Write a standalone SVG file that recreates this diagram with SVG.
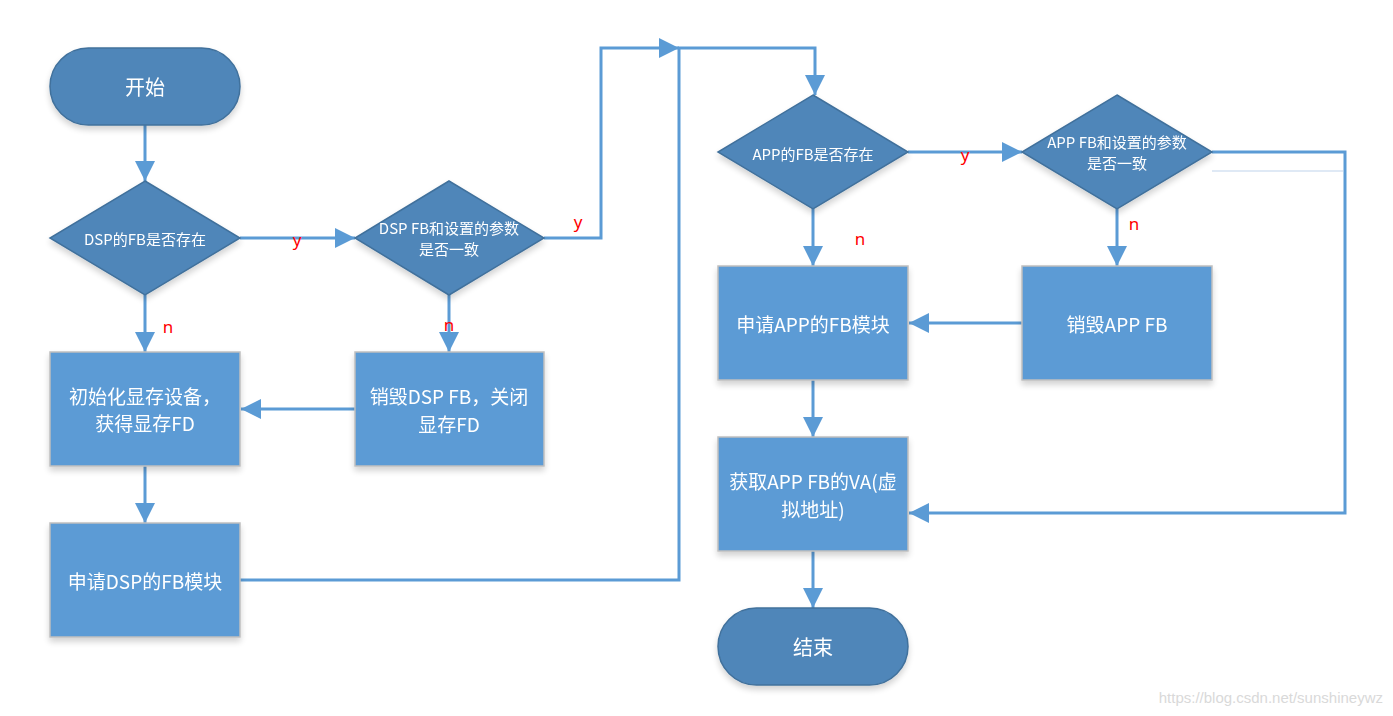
<svg xmlns="http://www.w3.org/2000/svg" width="1393" height="716" viewBox="0 0 1393 716">
<style>
.term{fill:#4f86b9;stroke:#41719c;stroke-width:1.5}
.dec{fill:#4f86b9;stroke:#41719c;stroke-width:1.5}
.proc{fill:#5b9bd5;stroke:#bfbfbf;stroke-width:1.5}
.t{fill:#ffffff;font-family:"Noto Sans CJK SC","Noto Sans",sans-serif;text-anchor:middle;dominant-baseline:central}
.lbl{fill:#ff0000;font-family:"Noto Sans","Liberation Sans",sans-serif;font-size:17px;text-anchor:middle;dominant-baseline:central}
.c{fill:none;stroke:#5b9bd5;stroke-width:3}
.sh{filter:url(#shadow)}
</style>
<defs>
<marker id="ah" markerUnits="userSpaceOnUse" markerWidth="20" markerHeight="20" refX="18" refY="9" orient="auto" viewBox="0 0 18 18">
<path d="M0,0 L18,9 L0,18 z" fill="#5b9bd5"/>
</marker>
<filter id="shadow" x="-10%" y="-10%" width="130%" height="130%">
<feGaussianBlur in="SourceAlpha" stdDeviation="3"/>
<feOffset dx="0" dy="4" result="b"/>
<feComponentTransfer><feFuncA type="linear" slope="0.18"/></feComponentTransfer>
<feMerge><feMergeNode/><feMergeNode in="SourceGraphic"/></feMerge>
</filter>
</defs>
<rect width="1393" height="716" fill="#ffffff"/>

<g id="connectors">
<path class="c" d="M145,125 V181" marker-end="url(#ah)"/>
<path class="c" d="M240,238 H355" marker-end="url(#ah)"/>
<path class="c" d="M145,295 V352" marker-end="url(#ah)"/>
<path class="c" d="M449,295 V352" marker-end="url(#ah)"/>
<path class="c" d="M355,409 H241" marker-end="url(#ah)"/>
<path class="c" d="M145,466 V523" marker-end="url(#ah)"/>
<path class="c" d="M544,238 H601 V48 H679" marker-end="url(#ah)"/>
<path class="c" d="M240,580 H679 V48 H815 V95" marker-end="url(#ah)"/>
<path class="c" d="M908,152 H1022" marker-end="url(#ah)"/>
<path class="c" d="M813,209 V266" marker-end="url(#ah)"/>
<path class="c" d="M1117,209 V266" marker-end="url(#ah)"/>
<path class="c" d="M1022,323 H909" marker-end="url(#ah)"/>
<path class="c" d="M813,380 V437" marker-end="url(#ah)"/>
<path class="c" d="M1212,152 H1345 V513 H909" marker-end="url(#ah)"/>
<path class="c" d="M813,551 V608" marker-end="url(#ah)"/>
<path d="M1212,171 H1343" stroke="#dfe9f5" stroke-width="2" fill="none"/>
<text class="lbl" x="297" y="239">y</text>
<text class="lbl" x="168" y="326">n</text>
<text class="lbl" x="449" y="324">n</text>
<text class="lbl" x="578" y="221">y</text>
<text class="lbl" x="965" y="154">y</text>
<text class="lbl" x="860" y="238">n</text>
<text class="lbl" x="1134" y="223">n</text>
</g>

<g id="start" class="sh">
<rect class="term" x="50" y="48" width="190" height="77" rx="38.5" ry="38.5"/>
<text class="t" x="145" y="86" font-size="20">开始</text>
</g>
<g id="dsp-exists" class="sh">
<polygon class="dec" points="145,181 240,238 145,295 50,238"/>
<text class="t" x="145" y="238" font-size="15">DSP的FB是否存在</text>
</g>
<g id="dsp-consistent" class="sh">
<polygon class="dec" points="449,181 544,238 449,295 355,238"/>
<text class="t" x="449" y="227" font-size="15">DSP FB和设置的参数</text>
<text class="t" x="449" y="248" font-size="15">是否一致</text>
</g>
<g id="init" class="sh">
<rect class="proc" x="50" y="352" width="190" height="114"/>
<text class="t" x="145" y="395" font-size="19">初始化显存设备，</text>
<text class="t" x="145" y="422" font-size="19">获得显存FD</text>
</g>
<g id="destroy-dsp" class="sh">
<rect class="proc" x="355" y="352" width="189" height="114"/>
<text class="t" x="449" y="395" font-size="19">销毁DSP FB，关闭</text>
<text class="t" x="449" y="423" font-size="19">显存FD</text>
</g>
<g id="apply-dsp" class="sh">
<rect class="proc" x="50" y="523" width="190" height="114"/>
<text class="t" x="145" y="580" font-size="19">申请DSP的FB模块</text>
</g>
<g id="app-exists" class="sh">
<polygon class="dec" points="813,95 908,152 813,209 718,152"/>
<text class="t" x="813" y="153" font-size="15">APP的FB是否存在</text>
</g>
<g id="app-consistent" class="sh">
<polygon class="dec" points="1117,95 1212,152 1117,209 1022,152"/>
<text class="t" x="1117" y="141" font-size="15">APP FB和设置的参数</text>
<text class="t" x="1117" y="162" font-size="15">是否一致</text>
</g>
<g id="apply-app" class="sh">
<rect class="proc" x="718" y="266" width="190" height="114"/>
<text class="t" x="813" y="323" font-size="19">申请APP的FB模块</text>
</g>
<g id="destroy-app" class="sh">
<rect class="proc" x="1022" y="266" width="190" height="114"/>
<text class="t" x="1117" y="323" font-size="19">销毁APP FB</text>
</g>
<g id="get-va" class="sh">
<rect class="proc" x="718" y="437" width="190" height="114"/>
<text class="t" x="813" y="480" font-size="19">获取APP FB的VA(虚</text>
<text class="t" x="813" y="508" font-size="19">拟地址)</text>
</g>
<g id="end" class="sh">
<rect class="term" x="718" y="608" width="190" height="77" rx="38.5" ry="38.5"/>
<text class="t" x="813" y="646" font-size="20">结束</text>
</g>
<text x="1383" y="697" font-family="'Liberation Sans',sans-serif" font-size="15" fill="#d9d9d9" text-anchor="end" dominant-baseline="central">https://blog.csdn.net/sunshineywz</text>
</svg>
